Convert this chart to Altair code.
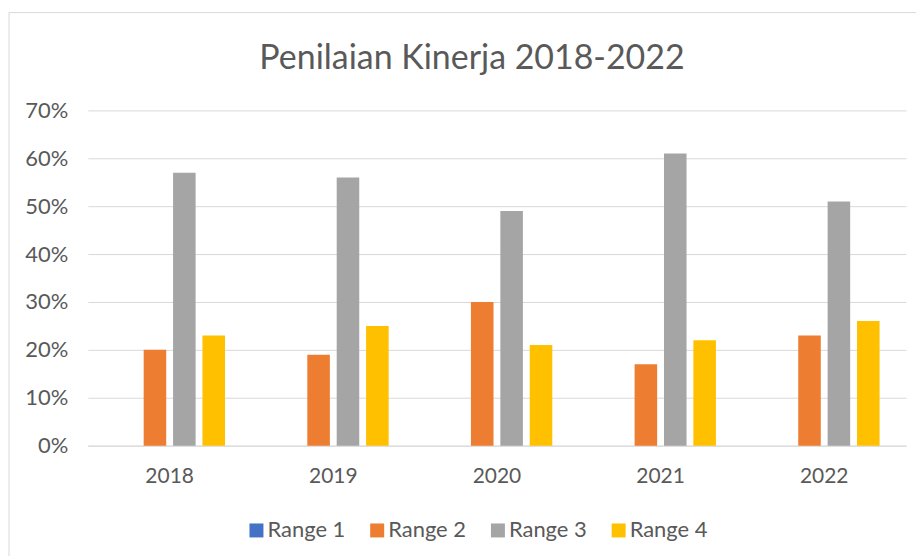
import altair as alt
import pandas as pd

years = ["2018", "2019", "2020", "2021", "2022"]
series = ["Range 1", "Range 2", "Range 3", "Range 4"]
range1 = [0.00, 0.00, 0.00, 0.00, 0.00]
range2 = [0.20, 0.19, 0.30, 0.17, 0.23]
range3 = [0.57, 0.56, 0.49, 0.61, 0.51]
range4 = [0.23, 0.25, 0.21, 0.22, 0.26]
colors = ["#4472C4", "#ED7D31", "#A5A5A5", "#FFC000"]

rows = []
for name, vals in zip(series, [range1, range2, range3, range4]):
    for y, v in zip(years, vals):
        rows.append({"Tahun": y, "Seri": name, "Nilai": v})
df = pd.DataFrame(rows)

FONT = "Lato"
TXT = "#595959"

bars = alt.Chart(df).mark_bar().encode(
    x=alt.X("Tahun:N", sort=years, title=None,
            scale=alt.Scale(paddingInner=0, paddingOuter=0),
            axis=alt.Axis(labelAngle=0, ticks=False, domain=True, domainColor="#D9D9D9",
                          labelPadding=20, labelFontSize=21, labelColor=TXT, labelFont=FONT)),
    xOffset=alt.XOffset("Seri:N", sort=series,
                        scale=alt.Scale(paddingInner=0.233, paddingOuter=0.9)),
    y=alt.Y("Nilai:Q", title=None,
            scale=alt.Scale(domain=[0, 0.7], nice=False),
            axis=alt.Axis(format=".0%", values=[0, 0.1, 0.2, 0.3, 0.4, 0.5, 0.6, 0.7],
                          ticks=False, domain=False, gridColor="#D9D9D9",
                          labelPadding=20, labelFontSize=22, labelColor=TXT, labelFont=FONT)),
    color=alt.Color("Seri:N", sort=series, scale=alt.Scale(domain=series, range=colors),
                    legend=alt.Legend(title=None, orient="none", direction="horizontal",
                                      legendX=158, legendY=410,
                                      symbolType="square", symbolSize=196, symbolStrokeWidth=0,
                                      labelFontSize=22, labelColor=TXT, labelFont=FONT,
                                      labelOffset=0, columnPadding=20)),
)

border = alt.Chart(pd.DataFrame({"a": [0]})).mark_rect(
    fill=None, stroke="#D9D9D9", strokeWidth=1
).encode(x=alt.value(-79), x2=alt.value(860), y=alt.value(-98), y2=alt.value(480))

chart = alt.layer(border, bars).properties(
    width=820, height=336,
    title=alt.TitleParams("Penilaian Kinerja 2018-2022", fontSize=34, font=FONT,
                          fontWeight="normal", color=TXT, anchor="middle", dx=-25, offset=-64),
    autosize=alt.AutoSizeParams(type="none"),
    padding={"left": 80, "top": 102, "right": 10, "bottom": 110},
).configure_view(stroke=None)

chart.save("out.html", embed_options={"renderer": "svg", "actions": False})
